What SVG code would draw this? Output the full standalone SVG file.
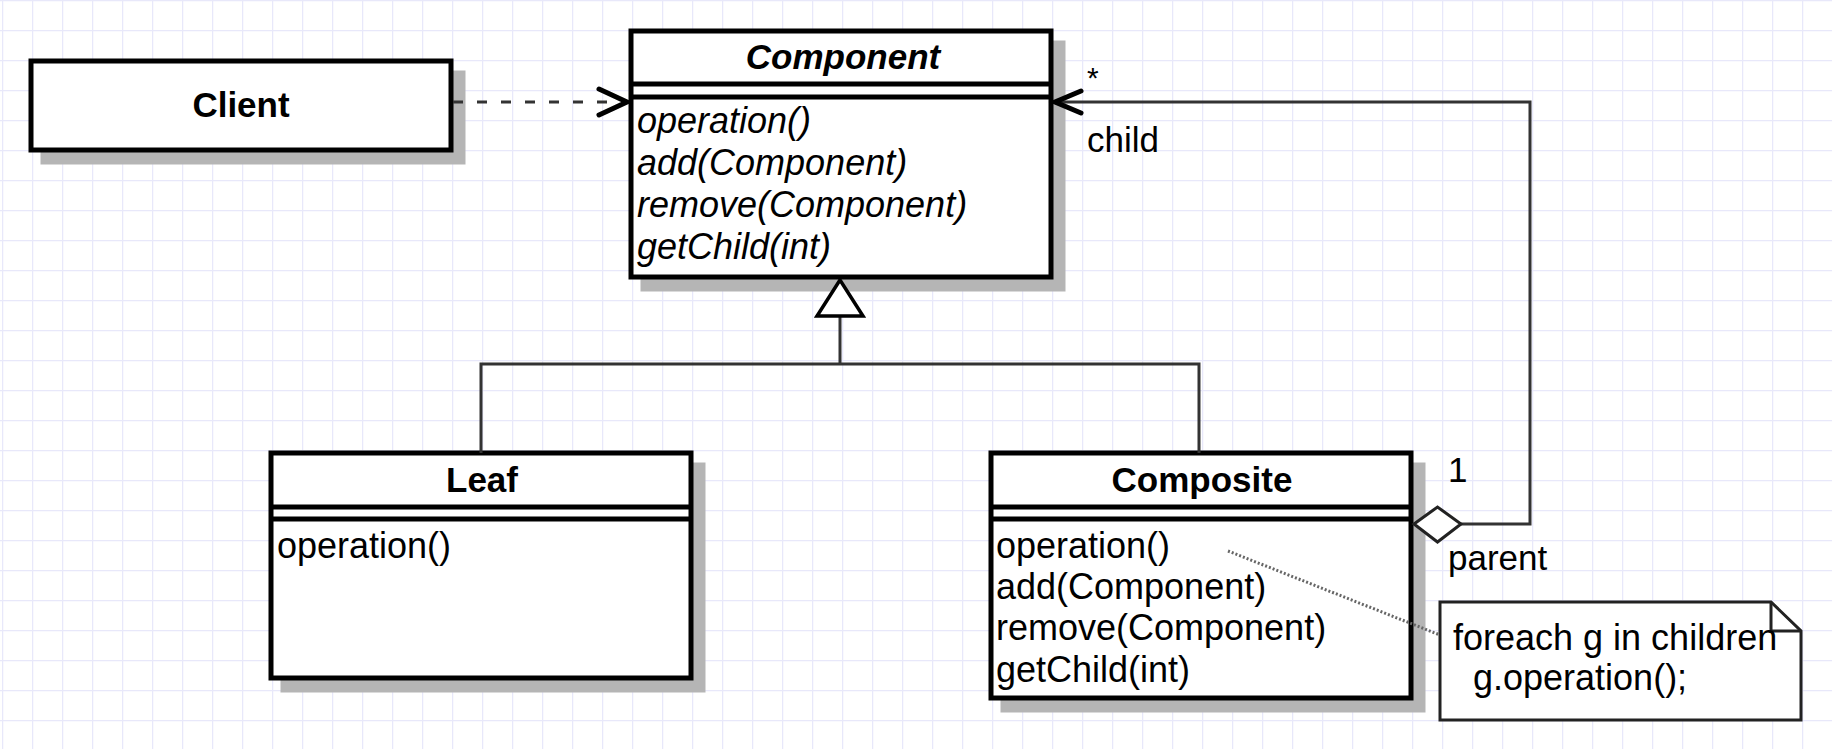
<svg xmlns="http://www.w3.org/2000/svg" width="1832" height="749" viewBox="0 0 1832 749">
<defs>
<pattern id="grid" width="30" height="30" patternUnits="userSpaceOnUse" x="2" y="0">
<path d="M0 0.5 H30 M0.5 0 V30" fill="none" stroke="#e8e8fa" stroke-width="1.5"/>
</pattern>
</defs>
<style>
.box{fill:#fff;stroke:#000;stroke-width:5}
.shadow{fill:#b5b5b5}
.sep{stroke:#000;stroke-width:5}
.t{font-family:"Liberation Sans",Arial,sans-serif;font-size:35px;fill:#000}
.m{font-size:36px}
.b{font-weight:bold}
.i{font-style:italic}
.line{fill:none;stroke:#333;stroke-width:3}
.head{fill:none;stroke:#000;stroke-width:5;stroke-linecap:round;stroke-linejoin:miter}
</style>
<rect width="1832" height="749" fill="#fff"/>
<rect width="1832" height="749" fill="url(#grid)"/>

<g id="client">
<rect class="shadow" x="40.5" y="70.5" width="425" height="94"/>
<rect class="box" x="31" y="61" width="420" height="89"/>
<text class="t b" x="241" y="117" text-anchor="middle">Client</text>
</g>

<g id="component">
<rect class="shadow" x="640.5" y="40.5" width="425" height="251"/>
<rect class="box" x="631" y="31" width="420" height="246"/>
<line class="sep" x1="631" y1="84" x2="1051" y2="84"/>
<line class="sep" x1="631" y1="97" x2="1051" y2="97"/>
<text class="t b i" x="843" y="69" text-anchor="middle">Component</text>
<text class="t m i" x="637" y="133">operation()</text>
<text class="t m i" x="637" y="175">add(Component)</text>
<text class="t m i" x="637" y="217">remove(Component)</text>
<text class="t m i" x="637" y="259">getChild(int)</text>
</g>

<g id="leaf">
<rect class="shadow" x="280.5" y="462.5" width="425" height="230"/>
<rect class="box" x="271" y="453" width="420" height="225"/>
<line class="sep" x1="271" y1="507" x2="691" y2="507"/>
<line class="sep" x1="271" y1="519" x2="691" y2="519"/>
<text class="t b" x="482" y="492" text-anchor="middle">Leaf</text>
<text class="t m" x="277" y="558">operation()</text>
</g>

<g id="composite">
<rect class="shadow" x="1000.5" y="462.5" width="425" height="250"/>
<rect class="box" x="991" y="453" width="420" height="245"/>
<line class="sep" x1="991" y1="507" x2="1411" y2="507"/>
<line class="sep" x1="991" y1="519" x2="1411" y2="519"/>
<text class="t b" x="1202" y="492" text-anchor="middle">Composite</text>
<text class="t m" x="996" y="558">operation()</text>
<text class="t m" x="996" y="599">add(Component)</text>
<text class="t m" x="996" y="640">remove(Component)</text>
<text class="t m" x="996" y="682">getChild(int)</text>
</g>

<g id="note">
<polygon points="1440,602 1771,602 1801,631 1801,720 1440,720" fill="#fff" stroke="#222" stroke-width="3"/>
<polyline points="1771,602 1771,631 1801,631" fill="none" stroke="#222" stroke-width="3"/>
<text class="t m" x="1453" y="650">foreach g in children</text>
<text class="t m" x="1473" y="690">g.operation();</text>
</g>

<g id="connectors">
<line x1="453" y1="102" x2="626" y2="102" stroke="#333" stroke-width="3" stroke-dasharray="10 14"/>
<polyline class="head" points="599,89 627,102 599,115"/>
<polyline class="line" points="481,453 481,364 1199,364 1199,453"/>
<line class="line" x1="840" y1="364" x2="840" y2="316"/>
<polygon points="840,280 817,316 863,316" fill="#fff" stroke="#000" stroke-width="3.5" stroke-linejoin="miter"/>
<polyline class="line" points="1461,524 1530,524 1530,102 1056,102"/>
<polyline class="head" points="1081,91 1055,102 1081,113"/>
<polygon points="1414,524 1437.5,507 1461,524 1437.5,542" fill="#fff" stroke="#222" stroke-width="3"/>
<line x1="1228" y1="551" x2="1440" y2="635" stroke="#666" stroke-width="3" stroke-dasharray="2 2"/>
<text class="t" x="1087" y="88" style="font-size:30px">*</text>
<text class="t" x="1087" y="152">child</text>
<text class="t" x="1448" y="482">1</text>
<text class="t" x="1448" y="570">parent</text>
</g>
</svg>
